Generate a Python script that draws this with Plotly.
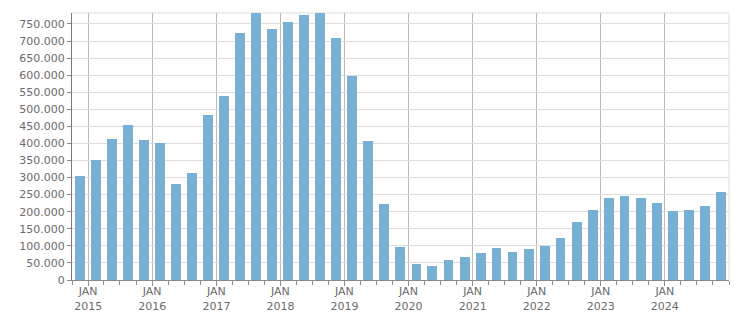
import plotly.graph_objects as go

# Quarter start dates (Q4 2014 .. Q4 2024)
quarters = []
for y in range(2014, 2025):
    for m in (1, 4, 7, 10):
        if y == 2014 and m < 10:
            continue
        quarters.append(f"{y}-{m:02d}-01")

values = [
    304000, 352000, 414000, 455000, 411000, 402000, 282000, 314000, 484000, 540000,
    724000, 781000, 736000, 757000, 777000, 781000, 710000, 598000, 408000, 224000,
    98000, 48000, 42000, 59000, 68000, 80000, 95000, 83000, 92000, 101000,
    124000, 171000, 206000, 241000, 247000, 241000, 226000, 203000, 206000, 218000,
    259000,
]

tick_vals = [f"{y}-01-01" for y in range(2015, 2025)]
tick_text = [f"JAN<br>{y}" for y in range(2015, 2025)]

DAY_MS = 86400000
bar_width = 0.62 * 91.3 * DAY_MS

fig = go.Figure(
    go.Bar(
        x=quarters,
        y=values,
        xperiod="M3",
        xperiodalignment="middle",
        width=bar_width,
        marker=dict(color="#77b0d3", line=dict(width=0)),
        hoverinfo="skip",
    )
)

font_color = "#6b6b6b"
fig.update_layout(
    width=751,
    height=313,
    margin=dict(l=72, r=22, t=13, b=33),
    plot_bgcolor="white",
    paper_bgcolor="white",
    separators=",.",
    showlegend=False,
    font=dict(family="DejaVu Sans", size=11, color=font_color),
    bargap=0,
)

fig.update_xaxes(
    type="date",
    automargin=False,
    range=["2014-10-01", "2025-01-01"],
    tickmode="array",
    tickvals=tick_vals,
    ticktext=tick_text,
    ticks="outside",
    ticklen=5,
    ticklabelstandoff=-4,
    tickcolor="#909090",
    showgrid=True,
    gridcolor="#b8b8b8",
    gridwidth=1,
    showline=True,
    linecolor="#8a8a8a",
    linewidth=1,
    zeroline=False,
    minor=dict(
        tickmode="linear",
        tick0="2015-01-01",
        dtick="M3",
        ticks="outside",
        ticklen=4,
        tickcolor="#909090",
        showgrid=False,
    ),
    tickfont=dict(size=11, color=font_color),
)

fig.update_yaxes(
    automargin=False,
    range=[0, 782000],
    tickmode="linear",
    tick0=0,
    dtick=50000,
    tickformat=",d",
    ticks="outside",
    ticklen=4,
    tickcolor="#8a8a8a",
    showgrid=True,
    gridcolor="#dedede",
    gridwidth=1,
    showline=True,
    linecolor="#7a7a7a",
    linewidth=1,
    zeroline=False,
    tickfont=dict(size=11, color=font_color),
)

# light frame on top and right
fig.add_shape(type="line", xref="paper", yref="paper", x0=0, x1=1, y0=1, y1=1,
              line=dict(color="#dcdcdc", width=1), layer="below")
fig.add_shape(type="line", xref="paper", yref="paper", x0=1, x1=1, y0=0, y1=1,
              line=dict(color="#dcdcdc", width=1), layer="below")

fig.write_html("out.html")
